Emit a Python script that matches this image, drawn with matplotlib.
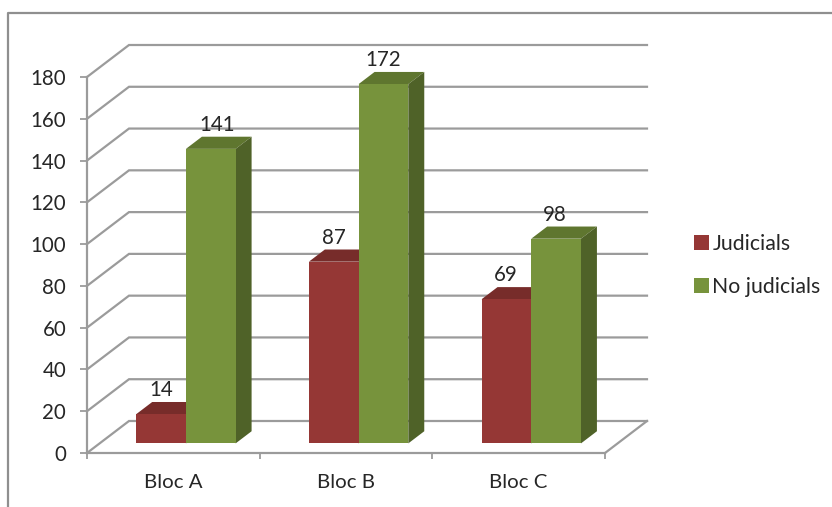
import numpy as np
import matplotlib
matplotlib.use('Agg')
import matplotlib.pyplot as plt
from matplotlib.lines import Line2D

categories = ['Bloc A', 'Bloc B', 'Bloc C']
judicials = [14, 87, 69]
no_judicials = [141, 172, 98]
y_ticks = [0, 20, 40, 60, 80, 100, 120, 140, 160, 180]
# the 141 label sits a bit to the right in the original
label_nudge_jud = [0, 0, -1]
label_nudge_nojud = [6, 0, -1]

W, H = 832, 507
plt.rcParams['font.family'] = ['Lato', 'DejaVu Sans']
text_col = '#262626'
grid_col = '#9b9b9b'

fig = plt.figure(figsize=(W / 100, H / 100), dpi=100)
ax = fig.add_axes([87 / W, (H - 453) / H, (605 - 87) / W, (453 - 77) / H])
ax.set_xlim(0, 3)
ax.set_ylim(0, 180)

# oblique depth: 1 unit of depth = full floor, in data units
px_x = 3 / (605 - 87)
px_y = 180 / (453 - 77)
depth_x = 42 * px_x
depth_y = 32 * px_y


def proj(x, y, d):
    return x + d * depth_x, y + d * depth_y


# walls
for v in y_ticks:
    x0, y0 = proj(0, v, 1)
    x1, y1 = proj(3, v, 1)
    ax.plot([0, x0, x1], [v, y0, y1], color=grid_col, lw=1.6, clip_on=False, zorder=1,
            solid_joinstyle='miter')
fx, fy = proj(3, 0, 1)
ax.plot([3, fx], [0, fy], color=grid_col, lw=1.6, clip_on=False, zorder=1)

bar_w = 49.7 * px_x
front = 0.30
back = 0.68


def box(x, val, c_front, c_top, c_side, z, label):
    x0, y0 = proj(x, 0, front)
    _, y1 = proj(x, val, front)
    x2, y2 = proj(x + bar_w, val, back)
    ax.bar(x0, y1 - y0, bar_w, bottom=y0, align='edge', color=c_front, clip_on=False,
           zorder=z + 1, label=label)
    ax.fill([x0, x0 + bar_w, x2, x2 - bar_w], [y1, y1, y2, y2], color=c_top, lw=0,
            clip_on=False, zorder=z)
    xb, yb = proj(x + bar_w, 0, back)
    ax.fill([x0 + bar_w, x2, xb, x0 + bar_w], [y1, y2, yb, y0], color=c_side, lw=0,
            clip_on=False, zorder=z)
    return x0 + bar_w / 2, y2


for i, cat in enumerate(categories):
    centre = i + 0.5
    lx, ly = box(centre - bar_w, judicials[i], '#953735', '#772c2a', '#632523', 2,
                 'Judicials' if i == 0 else None)
    ax.annotate(str(judicials[i]), (lx, ly), xytext=(label_nudge_jud[i], 2),
                textcoords='offset pixels', ha='center', va='bottom',
                fontsize=14.8, color=text_col, annotation_clip=False, zorder=8)
    lx, ly = box(centre, no_judicials[i], '#77933c', '#5f762f', '#4f6228', 4,
                 'No judicials' if i == 0 else None)
    ax.annotate(str(no_judicials[i]), (lx, ly), xytext=(label_nudge_nojud[i], 2),
                textcoords='offset pixels', ha='center', va='bottom',
                fontsize=14.8, color=text_col, annotation_clip=False, zorder=8)

for s in ['top', 'right']:
    ax.spines[s].set_visible(False)
for s in ['left', 'bottom']:
    ax.spines[s].set_color(grid_col)
    ax.spines[s].set_linewidth(1.6)
ax.patch.set_alpha(0)

ax.set_yticks(y_ticks)
ax.tick_params(axis='y', length=5, width=1.3, color=grid_col, pad=10, labelsize=14.8,
               labelcolor=text_col)
ax.set_xticks([0, 1, 2, 3])
ax.set_xticklabels([])
ax.set_xticks(np.arange(len(categories)) + 0.5, categories, minor=True)
ax.tick_params(axis='x', which='major', length=4.5, width=1.3, color=grid_col)
ax.tick_params(axis='x', which='minor', length=0, pad=15, labelsize=14.7, labelcolor=text_col)

ax.legend(loc='center left', bbox_to_anchor=(675 / W, (H - 265.5) / H),
          bbox_transform=fig.transFigure, frameon=False, fontsize=15.3, labelcolor=text_col,
          handlelength=0.72, handleheight=0.72, handletextpad=0.14, labelspacing=1.1)

# outer frame of the screenshot: top and left only
fig.add_artist(Line2D([8 / W, 8 / W, 1], [0, 1 - 13 / H, 1 - 13 / H], color='#8f8f8f', lw=1.6))

fig.savefig('out.png', dpi=100)
